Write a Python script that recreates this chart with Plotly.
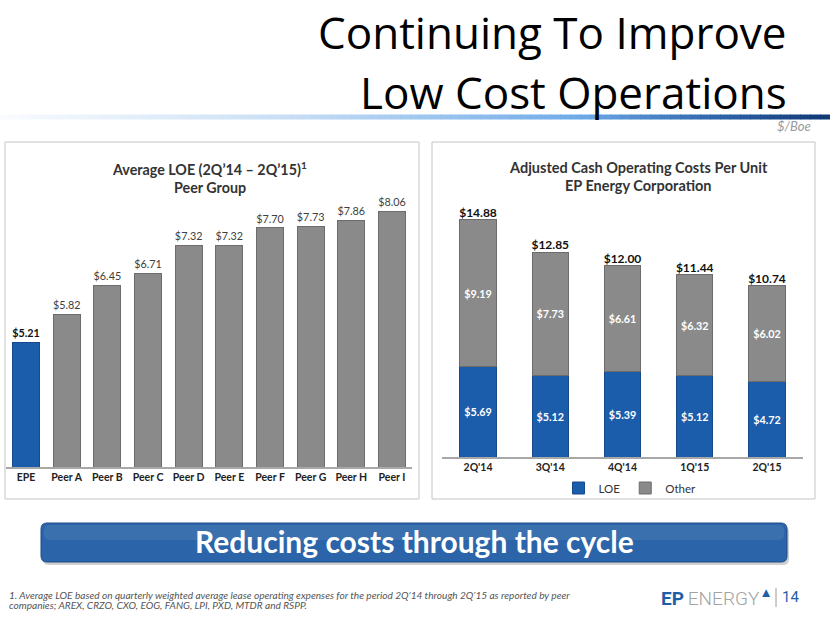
import plotly.graph_objects as go

# ---------------- data ----------------
peers = ["EPE", "Peer A", "Peer B", "Peer C", "Peer D", "Peer E", "Peer F", "Peer G", "Peer H", "Peer I"]
peer_loe = [5.21, 5.82, 6.45, 6.71, 7.32, 7.32, 7.70, 7.73, 7.86, 8.06]

quarters = ["2Q'14", "3Q'14", "4Q'14", "1Q'15", "2Q'15"]
loe = [5.69, 5.12, 5.39, 5.12, 4.72]
other = [9.19, 7.73, 6.61, 6.32, 6.02]
totals = [round(a + b, 2) for a, b in zip(loe, other)]

# ---------------- helpers ----------------
W, H = 830, 623
def px(x):
    return x / W
def py(y):
    return 1 - y / H

BLUE = "#1b5cab"
BLUE_EDGE = "#154a8c"
GRAY = "#8a8a8a"
GRAY_EDGE = "#6c6c6c"
FONT = "Lato"
TITLE_FONT = "Open Sans"

fig = go.Figure()

# ---------------- left chart ----------------
left_colors = [BLUE] + [GRAY] * (len(peers) - 1)
left_edges = [BLUE_EDGE] + [GRAY_EDGE] * (len(peers) - 1)
left_text = [("<b>$%.2f</b>" % v) if i == 0 else ("$%.2f" % v) for i, v in enumerate(peer_loe)]
left_text_col = ["#111111"] + ["#404040"] * (len(peers) - 1)
fig.add_trace(go.Bar(
    x=peers, y=peer_loe, xaxis="x", yaxis="y",
    marker=dict(color=left_colors, line=dict(color=left_edges, width=1)),
    width=0.66, text=left_text, textposition="outside", constraintext="none",
    textfont=dict(family=FONT, size=10.8, color=left_text_col),
    cliponaxis=False, showlegend=False, hoverinfo="x+y",
))

# ---------------- right chart ----------------
fig.add_trace(go.Bar(
    x=quarters, y=loe, name="LOE", xaxis="x2", yaxis="y2",
    marker=dict(color=BLUE, line=dict(color=BLUE_EDGE, width=1)),
    width=0.5, text=["<b>$%.2f</b>" % v for v in loe], textposition="inside",
    insidetextanchor="middle", textangle=0, constraintext="none",
    textfont=dict(family=FONT, size=10.8, color="white"),
))
fig.add_trace(go.Bar(
    x=quarters, y=other, name="Other", xaxis="x2", yaxis="y2",
    marker=dict(color=GRAY, line=dict(color=GRAY_EDGE, width=1)),
    width=0.5, text=["<b>$%.2f</b>" % v for v in other], textposition="inside",
    insidetextanchor="middle", textangle=0, constraintext="none",
    textfont=dict(family=FONT, size=10.8, color="white"),
))
fig.add_trace(go.Scatter(
    x=quarters, y=totals, xaxis="x2", yaxis="y2", mode="text",
    text=["<b>$%.2f</b>" % v for v in totals], textposition="top center",
    textfont=dict(family=FONT, size=12, color="#111111"),
    cliponaxis=False, showlegend=False, hoverinfo="skip",
))

# ---------------- shapes ----------------
shapes = []
# panels
shapes.append(dict(type="rect", xref="paper", yref="paper", x0=px(5), x1=px(419), y0=py(499), y1=py(142),
                   line=dict(color="#c4c4c4", width=1), fillcolor="white", layer="below"))
shapes.append(dict(type="rect", xref="paper", yref="paper", x0=px(432), x1=px(815), y0=py(499), y1=py(142),
                   line=dict(color="#c4c4c4", width=1), fillcolor="white", layer="below"))

# gradient rule under title
stops = [(0.0, (250, 252, 254)), (0.35, (200, 222, 245)), (0.7, (110, 170, 232)), (0.85, (50, 105, 175)), (1.0, (15, 55, 115))]
def grad(t):
    for (t0, c0), (t1, c1) in zip(stops[:-1], stops[1:]):
        if t0 <= t <= t1:
            f = (t - t0) / (t1 - t0)
            return "rgb(%d,%d,%d)" % tuple(round(a + (b - a) * f) for a, b in zip(c0, c1))
    return "rgb(%d,%d,%d)" % stops[-1][1]
N = 83
for i in range(N):
    xa = i * W / N
    xb = (i + 1) * W / N + 0.6
    shapes.append(dict(type="rect", xref="paper", yref="paper", x0=px(xa), x1=px(min(xb, W)),
                       y0=py(119.5), y1=py(114.5), line=dict(width=0), fillcolor=grad((i + 0.5) / N), layer="below"))

# banner (rounded rectangle)
def rounded(x0, y0, x1, y1, r):
    X = lambda v: "%.5f" % px(v)
    Y = lambda v: "%.5f" % py(v)
    return ("M %s,%s L %s,%s Q %s,%s %s,%s L %s,%s Q %s,%s %s,%s L %s,%s Q %s,%s %s,%s L %s,%s Q %s,%s %s,%s Z" % (
        X(x0 + r), Y(y0), X(x1 - r), Y(y0), X(x1), Y(y0), X(x1), Y(y0 + r),
        X(x1), Y(y1 - r), X(x1), Y(y1), X(x1 - r), Y(y1),
        X(x0 + r), Y(y1), X(x0), Y(y1), X(x0), Y(y1 - r),
        X(x0), Y(y0 + r), X(x0), Y(y0), X(x0 + r), Y(y0)))
shapes.append(dict(type="path", xref="paper", yref="paper", path=rounded(43, 526, 789, 565, 6),
                   fillcolor="rgba(120,120,120,0.35)", line=dict(width=0), layer="below"))
shapes.append(dict(type="path", xref="paper", yref="paper", path=rounded(41, 523, 787, 562, 6),
                   fillcolor="#2b64a8", line=dict(color="#1d4c86", width=1), layer="below"))
shapes.append(dict(type="path", xref="paper", yref="paper", path=rounded(44, 525, 784, 540, 5),
                   fillcolor="rgba(255,255,255,0.08)", line=dict(width=0), layer="below"))

# logo separator
shapes.append(dict(type="line", xref="paper", yref="paper", x0=px(776), x1=px(776), y0=py(588), y1=py(607),
                   line=dict(color="#9a9a9a", width=1)))

# ---------------- annotations ----------------
ann = []
def text(x, y, s, size, color="#000", xanchor="center", bold=False, italic=False, family=FONT, weight=None):
    if bold:
        s = "<b>%s</b>" % s
    if italic:
        s = "<i>%s</i>" % s
    f = dict(family=family, size=size, color=color)
    if weight is not None:
        f["weight"] = weight
    ann.append(dict(xref="paper", yref="paper", x=px(x), y=py(y), text=s, showarrow=False,
                    xanchor=xanchor, yanchor="middle", font=f))

text(789, 32, "Continuing To Improve", 44, "#000", xanchor="right", family=TITLE_FONT, weight=400)
text(789, 92, "Low Cost Operations", 44, "#000", xanchor="right", family=TITLE_FONT, weight=400)
text(813, 126, "$/Boe", 13, "#9a9a9a", xanchor="right", italic=True)

text(210, 168, "Average LOE (2Q\u201914 \u2013 2Q\u201915)<sup>1</sup>", 14.3, "#333333", bold=True)
text(210, 187, "Peer Group", 14.3, "#333333", bold=True)
text(638, 167, "Adjusted Cash Operating Costs Per Unit", 14.5, "#333333", bold=True)
text(638, 185, "EP Energy Corporation", 14.5, "#333333", bold=True)

text(414, 541, "Reducing costs through the cycle", 30, "white", bold=True)

text(7, 595, "1. Average LOE based on quarterly weighted average lease operating expenses for the period 2Q\u201914 through 2Q\u201915 as reported by peer",
     10.1, "#555555", xanchor="left", italic=True)
text(7, 605, "companies; AREX, CRZO, CXO, EOG, FANG, LPI, PXD, MTDR and RSPP.",
     10.1, "#555555", xanchor="left", italic=True)

text(659, 597, "<span style='color:#1f5fa8'><b>EP</b></span><span style='color:#a3a3a3'>\u2009ENERGY</span>"
     "<sup><span style='color:#1f5fa8'>\u25b2</span></sup>", 19, "#a3a3a3",
     xanchor="left", family="Roboto", weight=300)
text(790, 597, "14", 15, "#1f5fa8", family="Roboto")

# ---------------- layout ----------------
tickfont = dict(family=FONT, size=10.5, color="#222222")
fig.update_layout(
    width=W, height=H, margin=dict(l=0, r=0, t=0, b=0),
    paper_bgcolor="white", plot_bgcolor="rgba(0,0,0,0)",
    barmode="stack", bargap=0.3,
    font=dict(family=FONT),
    shapes=shapes, annotations=ann,
    xaxis=dict(domain=[px(5.7), px(412.3)], anchor="y", showline=True, linecolor="#a8a8a8", linewidth=1.5,
               ticks="", showgrid=False, tickfont=tickfont,
               tickmode="array", tickvals=peers, ticktext=["<b>%s</b>" % p for p in peers], fixedrange=True),
    yaxis=dict(domain=[py(467), py(191)], anchor="x", range=[2.5, 8.5], visible=False, showgrid=False, fixedrange=True),
    xaxis2=dict(domain=[px(441.9), px(803.1)], anchor="y2", showline=True, linecolor="#a8a8a8", linewidth=1.5,
                ticks="", showgrid=False, tickfont=tickfont,
                tickmode="array", tickvals=quarters, ticktext=["<b>%s</b>" % q for q in quarters], fixedrange=True),
    yaxis2=dict(domain=[py(457), py(202)], anchor="x2", range=[0, 16], visible=False, showgrid=False, fixedrange=True),
    legend=dict(orientation="h", x=px(630), y=py(488), xanchor="center", yanchor="middle",
                font=dict(family=FONT, size=11.5, color="#333333"), traceorder="normal",
                bgcolor="rgba(0,0,0,0)", itemwidth=30),
)

fig.write_html("out.html", config={"displayModeBar": False},
               post_script="document.body.style.margin='0px';")
